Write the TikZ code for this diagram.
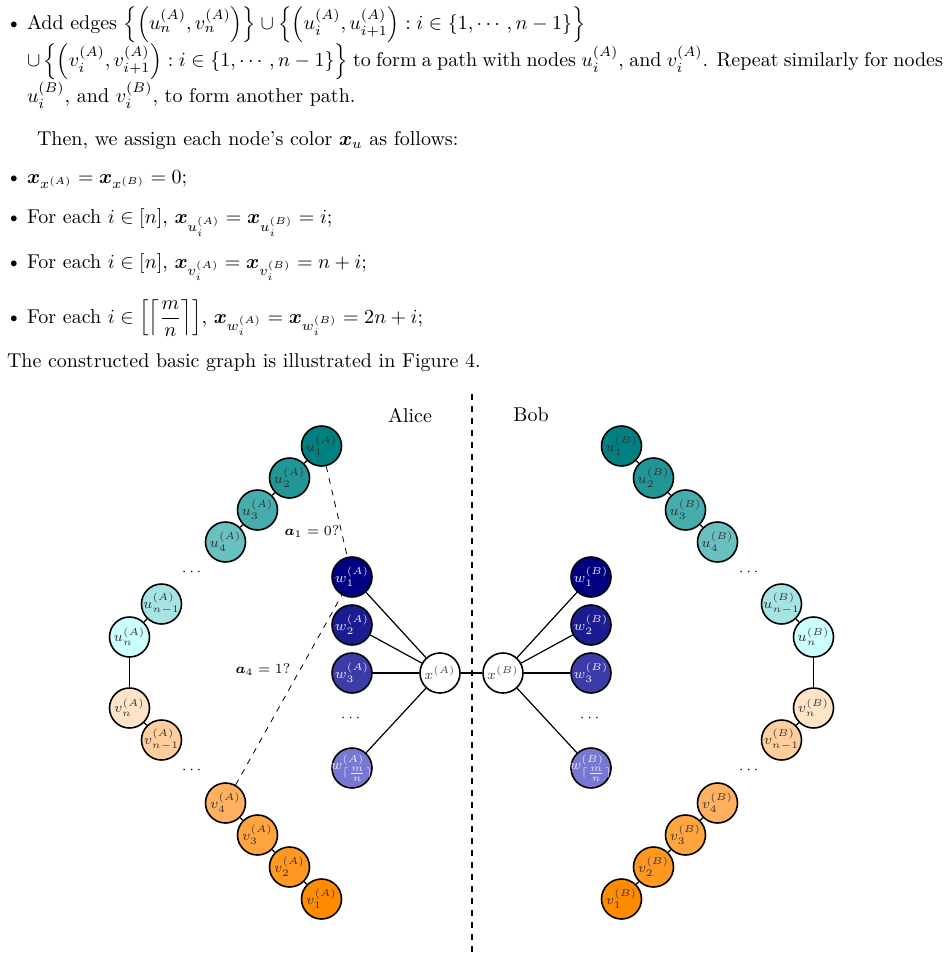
\documentclass[tikz,border=0pt]{standalone}
\usepackage{amsmath,amssymb}
\definecolor{ua1}{RGB}{0,128,128}
\definecolor{ua2}{RGB}{32,150,150}
\definecolor{ua3}{RGB}{70,172,172}
\definecolor{ua4}{RGB}{104,192,192}
\definecolor{uan1}{RGB}{166,228,228}
\definecolor{uan}{RGB}{204,255,255}
\definecolor{van}{RGB}{255,228,200}
\definecolor{van1}{RGB}{255,206,156}
\definecolor{va4}{RGB}{255,176,96}
\definecolor{va3}{RGB}{255,165,64}
\definecolor{va2}{RGB}{255,152,32}
\definecolor{va1}{RGB}{255,140,0}
\definecolor{wc1}{RGB}{0,0,128}
\definecolor{wc2}{RGB}{28,28,145}
\definecolor{wc3}{RGB}{60,60,168}
\definecolor{wcl}{RGB}{120,120,210}
\newcommand{\zlab}[1]{\makebox[0pt][c]{#1}}
\begin{document}
\begin{tikzpicture}[x=0.5pt,y=-0.5pt,
  txt/.style={anchor=base west,inner sep=0pt,outer sep=0pt},
  vtx/.style={circle,draw=black,thick,minimum size=20pt,inner sep=0pt,font=\scriptsize,text=black!80},
  wvtx/.style={vtx,text=white!92!blue},
  xvtx/.style={vtx,fill=white,text=black!70},
  edge/.style={draw=black,semithick},
  qedge/.style={draw=black,thin,dashed},
  sep/.style={draw=black,line width=1pt,dashed},
  lbl/.style={font=\scriptsize,inner sep=1pt},
  dotsl/.style={font=\scriptsize,inner sep=0pt}]
\useasboundingbox (0,0) rectangle (949,957);

% ---------- text ----------
\node[txt] (b0) at (6,30) {\textbullet};
\node[txt] (t1) at (27,30) {Add edges $\left\{\left(u_n^{(A)}, v_n^{(A)}\right)\right\}\cup\left\{\left(u_i^{(A)},u_{i+1}^{(A)}\right): i\in\{1,\cdots,n-1\}\right\}$};
\node[txt] (t2) at (27,67) {\makebox[458pt][s]{$\cup\left\{\left(v_i^{(A)}, v_{i+1}^{(A)}\right): i\in\{1,\cdots,n-1\}\right\}$ to form a path with nodes $u_i^{(A)}$, and $v_i^{(A)}$. Repeat similarly for nodes}};
\node[txt] (t3) at (27,103) {$u_i^{(B)}$, and $v_i^{(B)}$, to form another path.};
\node[txt] (t4) at (37,146) {Then, we assign each node's color $\boldsymbol{x}_u$ as follows:};
\node[txt] (b1) at (6,184) {\textbullet};
\node[txt] (t5) at (27,184) {$\boldsymbol{x}_{x^{(A)}}=\boldsymbol{x}_{x^{(B)}}=0$;};
\node[txt] (b2) at (6,224) {\textbullet};
\node[txt] (t6) at (27,224) {For each $i\in[n]$, $\boldsymbol{x}_{u_i^{(A)}}=\boldsymbol{x}_{u_i^{(B)}}=i$;};
\node[txt] (b3) at (6,268) {\textbullet};
\node[txt] (t7) at (27,268) {For each $i\in[n]$, $\boldsymbol{x}_{v_i^{(A)}}=\boldsymbol{x}_{v_i^{(B)}}=n+i$;};
\node[txt] (b4) at (6,323) {\textbullet};
\node[txt] (t8) at (27,323) {For each $i\in\left[\left\lceil\dfrac{m}{n}\right\rceil\right]$, $\boldsymbol{x}_{w_i^{(A)}}=\boldsymbol{x}_{w_i^{(B)}}=2n+i$;};
\node[txt] (t9) at (7,367) {The constructed basic graph is illustrated in Figure 4.};

% ---------- labels ----------
\node (alice) at (410,415) {Alice};
\node (bob) at (531,415) {Bob};
\coordinate (stop) at (471.5,394);
\coordinate (sbot) at (471.5,952);

% ---------- Alice side ----------
\node[vtx,fill=ua1] (uA1) at (321.5,446) {\zlab{$u_1^{(A)}$}};
\node[vtx,fill=ua2] (uA2) at (289.5,478) {\zlab{$u_2^{(A)}$}};
\node[vtx,fill=ua3] (uA3) at (257.5,510) {\zlab{$u_3^{(A)}$}};
\node[vtx,fill=ua4] (uA4) at (225.5,542) {\zlab{$u_4^{(A)}$}};
\node[dotsl] (dA1) at (193,572) {$\cdots$};
\node[vtx,fill=uan1] (uAn1) at (161.5,604) {\zlab{$u_{n-1}^{(A)}$}};
\node[vtx,fill=uan] (uAn) at (129.5,637) {\zlab{$u_n^{(A)}$}};
\node[vtx,fill=van] (vAn) at (129.5,708) {\zlab{$v_n^{(A)}$}};
\node[vtx,fill=van1] (vAn1) at (161.5,740) {\zlab{$v_{n-1}^{(A)}$}};
\node[dotsl] (dA2) at (193,770) {$\cdots$};
\node[vtx,fill=va4] (vA4) at (225.5,803) {\zlab{$v_4^{(A)}$}};
\node[vtx,fill=va3] (vA3) at (257.5,835) {\zlab{$v_3^{(A)}$}};
\node[vtx,fill=va2] (vA2) at (289.5,867) {\zlab{$v_2^{(A)}$}};
\node[vtx,fill=va1] (vA1) at (321.5,899) {\zlab{$v_1^{(A)}$}};

\node[wvtx,fill=wc1] (wA1) at (352,577) {\zlab{$w_1^{(A)}$}};
\node[wvtx,fill=wc2] (wA2) at (352,625) {\zlab{$w_2^{(A)}$}};
\node[wvtx,fill=wc3] (wA3) at (352,673) {\zlab{$w_3^{(A)}$}};
\node[dotsl] (dA3) at (352,718) {$\cdots$};
\node[wvtx,fill=wcl] (wAl) at (352,768) {\zlab{$w_{\lceil\frac{m}{n}\rceil}^{(A)}$}};
\node[xvtx] (xA) at (440,673) {\zlab{$x^{(A)}$}};

% ---------- Bob side ----------
\node[vtx,fill=ua1] (uB1) at (621.5,446) {\zlab{$u_1^{(B)}$}};
\node[vtx,fill=ua2] (uB2) at (653.5,478) {\zlab{$u_2^{(B)}$}};
\node[vtx,fill=ua3] (uB3) at (685.5,510) {\zlab{$u_3^{(B)}$}};
\node[vtx,fill=ua4] (uB4) at (717.5,542) {\zlab{$u_4^{(B)}$}};
\node[dotsl] (dB1) at (750,572) {$\cdots$};
\node[vtx,fill=uan1] (uBn1) at (781.5,604) {\zlab{$u_{n-1}^{(B)}$}};
\node[vtx,fill=uan] (uBn) at (813.5,637) {\zlab{$u_n^{(B)}$}};
\node[vtx,fill=van] (vBn) at (813.5,708) {\zlab{$v_n^{(B)}$}};
\node[vtx,fill=van1] (vBn1) at (781.5,740) {\zlab{$v_{n-1}^{(B)}$}};
\node[dotsl] (dB2) at (750,770) {$\cdots$};
\node[vtx,fill=va4] (vB4) at (717.5,803) {\zlab{$v_4^{(B)}$}};
\node[vtx,fill=va3] (vB3) at (685.5,835) {\zlab{$v_3^{(B)}$}};
\node[vtx,fill=va2] (vB2) at (653.5,867) {\zlab{$v_2^{(B)}$}};
\node[vtx,fill=va1] (vB1) at (621.5,899) {\zlab{$v_1^{(B)}$}};

\node[wvtx,fill=wc1] (wB1) at (591,577) {\zlab{$w_1^{(B)}$}};
\node[wvtx,fill=wc2] (wB2) at (591,625) {\zlab{$w_2^{(B)}$}};
\node[wvtx,fill=wc3] (wB3) at (591,673) {\zlab{$w_3^{(B)}$}};
\node[dotsl] (dB3) at (591,718) {$\cdots$};
\node[wvtx,fill=wcl] (wBl) at (591,768) {\zlab{$w_{\lceil\frac{m}{n}\rceil}^{(B)}$}};
\node[xvtx] (xB) at (503,673) {\zlab{$x^{(B)}$}};

% ---------- edges ----------
\foreach \a/\b in {uA1/uA2,uA2/uA3,uA3/uA4,uAn1/uAn,uAn/vAn,vAn/vAn1,vA4/vA3,vA3/vA2,vA2/vA1,
                   uB1/uB2,uB2/uB3,uB3/uB4,uBn1/uBn,uBn/vBn,vBn/vBn1,vB4/vB3,vB3/vB2,vB2/vB1,
                   xA/wA1,xA/wA2,xA/wA3,xA/wAl,xB/wB1,xB/wB2,xB/wB3,xB/wBl,xA/xB}
  \draw[edge] (\a) -- (\b);
\draw[qedge] (uA1) -- (wA1);
\draw[qedge] (vA4) -- (wA1);
\node[lbl] (q1) at (312,532) {$\boldsymbol{a}_1=0?$};
\node[lbl] (q4) at (263,670) {$\boldsymbol{a}_4=1?$};
\draw[sep] (stop) -- (sbot);
\end{tikzpicture}
\end{document}
